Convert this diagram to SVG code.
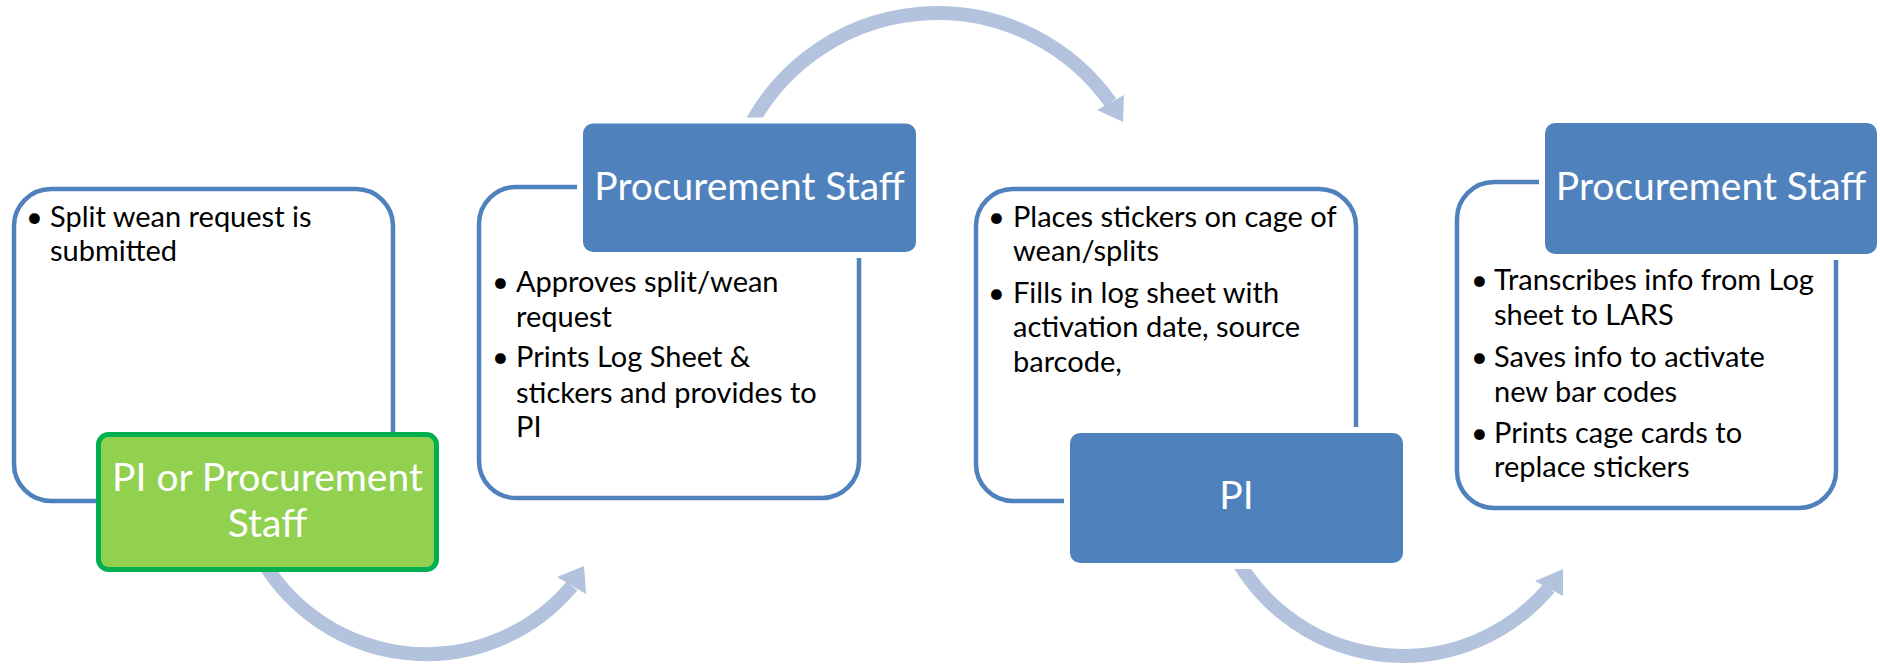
<svg xmlns="http://www.w3.org/2000/svg" width="1880" height="665" viewBox="0 0 1880 665">
<defs>
<style>
.panel{fill:#FFFFFF;stroke:#4F81BD;stroke-width:4.5}
.head{fill:#4F81BD;stroke:#FFFFFF;stroke-width:12;paint-order:stroke fill}
.green{fill:#92D050;stroke:#00B050;stroke-width:5}
.body{font-family:Lato,"Liberation Sans",sans-serif;font-size:29px;fill:#000000}
.title{font-family:Lato,"Liberation Sans",sans-serif;font-size:39px;fill:#FFFFFF;text-anchor:middle}
.arc{fill:none;stroke:#B3C3DD;stroke-width:14}
.tip{fill:#B3C3DD}
</style>
</defs>
<rect width="1880" height="665" fill="#FFFFFF"/>
<g id="connectors">
<path class="arc" d="M254.8,546 A190,190 0 0 0 572,586"/>
<polygon class="tip" points="584,566 557,577 586,594"/>
<path class="arc" d="M744.9,136.4 A212,212 0 0 1 1110.5,102.5"/>
<polygon class="tip" points="1123,122 1097,110 1124,95"/>
<path class="arc" d="M1229.9,545.7 A191,191 0 0 0 1549,588"/>
<polygon class="tip" points="1563,569 1535,581 1563,596"/>
</g>
<g id="step1">
<rect class="panel" x="14" y="189" width="379" height="312" rx="37"/>
<text class="body" x="26" y="227">•<tspan x="50">Split wean request is</tspan></text>
<text class="body" x="50" y="261">submitted</text>
</g>
<g id="step1-label">
<rect class="green" x="98.5" y="434.5" width="338" height="135" rx="10"/>
<text class="title" x="267.5" y="491">PI or Procurement</text>
<text class="title" x="267.5" y="537">Staff</text>
</g>
<g id="step2">
<rect class="panel" x="479" y="187" width="380" height="311" rx="37"/>
<text class="body" x="492" y="292">•<tspan x="516">Approves split/wean</tspan></text>
<text class="body" x="516" y="327">request</text>
<text class="body" x="492" y="367">•<tspan x="516">Prints Log Sheet &amp;</tspan></text>
<text class="body" x="516" y="403">stickers and provides to</text>
<text class="body" x="516" y="437">PI</text>
</g>
<g id="step2-label">
<rect class="head" x="583" y="123.5" width="333" height="128.5" rx="10"/>
<text class="title" x="749.5" y="200">Procurement Staff</text>
</g>
<g id="step3">
<rect class="panel" x="976" y="189" width="380" height="312" rx="37"/>
<text class="body" x="988" y="227">•<tspan x="1013">Places stickers on cage of</tspan></text>
<text class="body" x="1013" y="261">wean/splits</text>
<text class="body" x="988" y="303">•<tspan x="1013">Fills in log sheet with</tspan></text>
<text class="body" x="1013" y="337">activation date, source</text>
<text class="body" x="1013" y="372">barcode,</text>
</g>
<g id="step3-label">
<rect class="head" x="1070" y="433" width="333" height="130" rx="10"/>
<text class="title" x="1236.5" y="509">PI</text>
</g>
<g id="step4">
<rect class="panel" x="1457" y="182" width="379" height="326" rx="37"/>
<text class="body" x="1471" y="290">•<tspan x="1494">Transcribes info from Log</tspan></text>
<text class="body" x="1494" y="325">sheet to LARS</text>
<text class="body" x="1471" y="367">•<tspan x="1494">Saves info to activate</tspan></text>
<text class="body" x="1494" y="402">new bar codes</text>
<text class="body" x="1471" y="443">•<tspan x="1494">Prints cage cards to</tspan></text>
<text class="body" x="1494" y="477">replace stickers</text>
</g>
<g id="step4-label">
<rect class="head" x="1545" y="123" width="332" height="131" rx="10"/>
<text class="title" x="1711" y="200">Procurement Staff</text>
</g>
</svg>
